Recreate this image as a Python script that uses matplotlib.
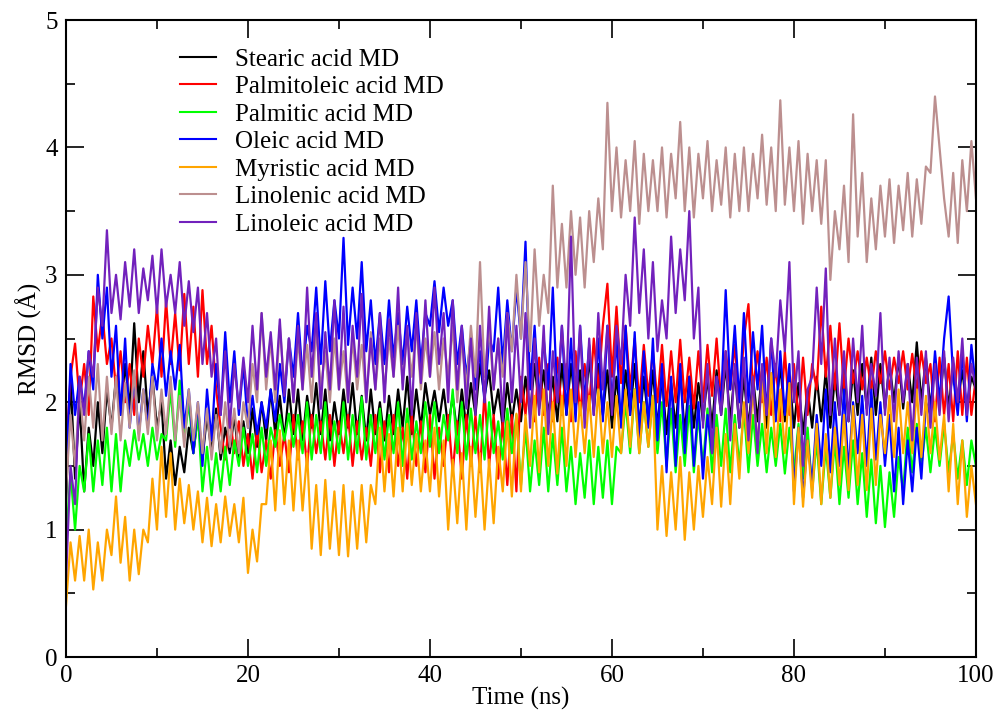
import numpy as np
import matplotlib
matplotlib.use('Agg')
from matplotlib import pyplot as plt

plt.rcParams['font.family'] = ['Liberation Serif', 'DejaVu Serif']

# time axis, one frame every 0.5 ns
time_ns = np.arange(0, 100.5, 0.5)

labels = ['Stearic acid MD', 'Palmitoleic acid MD', 'Palmitic acid MD', 'Oleic acid MD',
          'Myristic acid MD', 'Linolenic acid MD', 'Linoleic acid MD']
colors = ['#000000', '#ff0000', '#00ff00', '#0000ff', '#ffa500', '#bc8f8f', '#7221bc']

stearic = [
    1.2, 2.2, 1.4, 2.0, 1.3, 1.8, 1.5, 2.0, 1.6, 2.1,
    1.8, 2.2, 1.9, 2.3, 1.95, 2.62, 2.0, 2.4, 1.9, 2.2,
    1.8, 2.0, 1.4, 1.7, 1.35, 1.65, 1.45, 1.8, 1.6, 1.9,
    1.55, 1.9, 1.6, 1.95, 1.55, 1.8, 1.6, 1.9, 1.55, 1.85,
    1.6, 1.95, 1.65, 2.0, 1.7, 2.1, 1.75, 2.05, 1.7, 2.1,
    1.75, 2.1, 1.7, 2.05, 1.8, 2.15, 1.75, 2.1, 1.7, 2.0,
    1.75, 2.1, 1.8, 2.15, 1.75, 2.05, 1.7, 2.1, 1.75, 2.0,
    1.7, 2.05, 1.75, 2.1, 1.8, 2.2, 1.75, 2.1, 1.8, 2.15,
    1.9, 2.09, 1.85, 2.1, 1.8, 2.05, 1.75, 2.1, 1.8, 2.15,
    1.9, 2.3, 2.05, 2.25, 1.9, 2.1, 1.8, 2.15, 1.85, 2.1,
    1.85, 2.2, 1.9, 2.3, 1.95, 2.25, 1.9, 2.2, 1.85, 2.3,
    1.9, 2.3, 1.95, 2.25, 1.9, 2.35, 1.95, 2.3, 1.9, 2.25,
    1.8, 2.2, 1.85, 2.25, 1.9, 2.3, 1.8, 2.2, 1.85, 2.25,
    1.8, 2.2, 1.75, 2.15, 1.8, 2.25, 1.75, 2.2, 1.8, 2.15,
    1.85, 2.2, 1.8, 2.25, 1.9, 2.3, 1.85, 2.25, 1.8, 2.2,
    1.8, 2.2, 1.85, 2.25, 1.8, 2.2, 1.9, 2.3, 1.85, 2.2,
    1.8, 2.15, 1.75, 2.1, 1.8, 2.2, 1.85, 2.25, 1.8, 2.2,
    1.9, 2.3, 1.85, 2.25, 1.9, 2.3, 1.95, 2.35, 1.9, 2.3,
    1.95, 2.3, 2.0, 2.35, 1.95, 2.3, 2.0, 2.47, 2.0, 2.35,
    1.95, 2.3, 2.0, 2.35, 1.95, 2.3, 2.0, 2.25, 1.95, 2.2,
    2.1]

palmitoleic = [
    1.6, 2.2, 2.46, 2.0, 2.3, 1.9, 2.83, 2.4, 2.7, 2.3,
    2.5, 2.1, 2.4, 2.0, 2.3, 1.9, 2.5, 2.2, 2.6, 2.3,
    2.75, 2.2, 2.8, 2.3, 2.7, 2.25, 2.85, 2.3, 2.75, 2.2,
    2.88, 2.3, 2.6, 2.1, 1.8, 1.55, 1.9, 1.6, 1.85, 1.5,
    1.75, 1.4, 1.8, 1.45, 1.7, 1.4, 1.78, 1.5, 1.75, 1.45,
    1.9, 1.55, 1.85, 1.5, 1.9, 1.6, 1.85, 1.55, 1.9, 1.5,
    1.85, 1.6, 1.9, 1.5, 1.85, 1.55, 1.8, 1.5, 1.9, 1.45,
    1.85, 1.45, 1.9, 1.5, 1.8, 1.4, 1.9, 1.5, 1.85, 1.45,
    1.9, 1.4, 1.8, 1.5, 1.9, 1.45, 1.85, 1.4, 1.9, 1.5,
    1.9, 1.45, 2.09, 1.5, 1.9, 1.4, 1.85, 1.35, 1.9, 1.3,
    2.2, 1.9, 2.3, 1.85, 2.35, 1.9, 2.3, 1.85, 2.35, 1.9,
    2.3, 1.85, 2.4, 1.9, 2.3, 1.95, 2.5, 2.1, 2.6, 2.93,
    2.2, 2.75, 2.15, 2.6, 2.1, 2.5, 2.0, 2.45, 2.05, 2.4,
    2.0, 2.45, 1.97, 2.4, 2.0, 2.49, 2.0, 2.35, 1.95, 2.4,
    2.0, 2.45, 2.05, 2.5, 2.0, 2.4, 2.1, 2.45, 2.0, 2.5,
    2.77, 2.1, 2.4, 2.0, 2.35, 1.9, 2.3, 1.85, 2.4, 1.9,
    2.3, 1.85, 2.35, 1.9, 2.3, 2.1, 2.75, 2.2, 2.6, 2.1,
    2.62, 2.1, 2.5, 2.15, 2.4, 2.1, 2.35, 2.1, 2.4, 2.15,
    2.4, 2.1, 2.35, 2.15, 2.4, 2.1, 2.38, 2.1, 2.4, 2.15,
    2.3, 1.85, 2.35, 1.9, 2.3, 1.85, 2.4, 1.9, 2.35, 1.9,
    2.2]

palmitic = [
    0.9, 1.45, 1.0, 1.5, 1.3, 1.75, 1.3, 1.7, 1.35, 1.8,
    1.3, 1.75, 1.3, 1.7, 1.5, 1.78, 1.55, 1.75, 1.5, 1.8,
    1.55, 1.75, 1.7, 2.1, 1.65, 2.17, 1.7, 2.0, 1.6, 1.9,
    1.3, 1.65, 1.27, 1.6, 1.3, 1.65, 1.35, 1.7, 1.5, 1.8,
    1.5, 1.75, 1.45, 1.8, 1.5, 1.8, 1.65, 1.9, 1.7, 1.91,
    1.65, 1.9, 1.6, 2.0, 1.55, 1.9, 1.6, 2.0, 1.55, 1.85,
    1.6, 2.0, 1.55, 1.9, 1.6, 2.04, 1.55, 1.9, 1.6, 1.95,
    1.55, 1.9, 1.6, 2.0, 1.5, 1.95, 1.55, 1.85, 1.6, 2.0,
    1.65, 2.0, 1.6, 1.9, 1.7, 2.1, 1.6, 2.0, 1.55, 1.95,
    1.6, 1.9, 1.55, 2.0, 1.6, 1.85, 1.55, 1.95, 1.6, 1.9,
    1.35, 1.8, 1.3, 1.7, 1.35, 1.8, 1.3, 1.75, 1.35, 1.8,
    1.3, 1.65, 1.2, 1.6, 1.25, 1.7, 1.2, 1.65, 1.25, 1.7,
    1.2, 1.65, 1.6, 2.0, 1.6, 2.1, 1.6, 2.0, 1.65, 2.05,
    1.6, 2.0, 1.5, 1.95, 1.45, 1.9, 1.5, 1.97, 1.45, 1.9,
    1.5, 1.95, 1.45, 1.9, 1.5, 1.95, 1.45, 1.9, 1.5, 1.95,
    1.45, 1.9, 1.5, 1.83, 1.45, 1.8, 1.5, 1.83, 1.44, 1.8,
    1.45, 1.83, 1.4, 1.8, 1.3, 1.7, 1.2, 1.65, 1.25, 1.7,
    1.2, 1.65, 1.25, 1.7, 1.2, 1.6, 1.1, 1.55, 1.05, 1.5,
    1.02, 1.45, 1.1, 1.57, 1.3, 1.8, 1.45, 1.83, 1.5, 1.8,
    1.45, 1.8, 1.5, 1.83, 1.45, 1.75, 1.4, 1.7, 1.35, 1.7,
    1.5]

oleic = [
    1.4, 2.3, 1.9, 2.2, 1.95, 2.4, 2.1, 3.0, 2.5, 2.9,
    2.2, 2.6, 1.9, 2.5, 1.8, 2.2, 1.75, 2.1, 1.8, 2.3,
    2.1, 2.5, 2.05, 2.4, 2.1, 2.45, 1.8, 2.1, 1.6, 2.0,
    1.5, 2.1, 1.7, 2.3, 1.9, 2.55, 2.0, 2.4, 1.9, 2.3,
    1.8, 2.05, 1.75, 2.0, 1.8, 2.1, 1.85, 2.3, 2.0, 2.5,
    2.2, 2.7, 2.2, 2.6, 2.4, 2.9, 2.3, 2.95, 2.4, 2.8,
    2.5, 3.29, 2.45, 2.9, 2.5, 3.1, 2.4, 2.8, 2.3, 2.7,
    2.3, 2.8, 2.35, 2.7, 2.3, 2.75, 2.4, 2.8, 2.3, 2.7,
    2.6, 2.95, 2.55, 2.9, 2.6, 2.8, 2.3, 2.6, 2.2, 2.5,
    2.1, 2.4, 2.0, 2.5, 2.4, 2.9, 2.3, 2.8, 2.4, 2.9,
    2.5, 3.26, 2.1, 2.6, 2.0, 2.5, 2.1, 2.9, 2.0, 2.6,
    1.9, 2.5, 1.85, 2.6, 2.0, 2.45, 1.9, 2.5, 1.85, 2.6,
    2.0, 2.5, 1.8, 2.6, 1.9, 2.55, 1.7, 2.4, 1.8, 2.5,
    1.7, 2.3, 1.45, 2.2, 1.5, 2.3, 1.6, 2.2, 1.5, 2.0,
    1.4, 1.9, 1.6, 2.2, 2.0, 2.88, 2.1, 2.6, 2.0, 2.7,
    2.0, 2.55, 2.1, 2.6, 1.9, 2.5, 1.85, 2.4, 1.9, 2.3,
    1.3, 1.8, 1.25, 1.7, 1.35, 1.9, 1.5, 2.1, 1.45, 2.0,
    1.5, 2.1, 1.45, 2.0, 1.6, 2.05, 1.5, 2.1, 1.55, 2.0,
    1.5, 1.9, 1.3, 1.8, 1.2, 1.7, 1.3, 1.8, 1.4, 2.0,
    1.9, 2.4, 2.0, 2.5, 2.83, 2.2, 1.9, 2.4, 1.85, 2.45,
    2.1]

myristic = [
    0.4, 0.9, 0.6, 0.95, 0.6, 1.0, 0.53, 0.9, 0.6, 1.0,
    0.8, 1.26, 0.74, 1.1, 0.6, 1.0, 0.65, 1.0, 0.9, 1.4,
    1.0, 1.65, 1.1, 1.6, 1.0, 1.4, 1.05, 1.35, 1.0, 1.3,
    0.9, 1.25, 0.87, 1.2, 0.9, 1.26, 0.95, 1.2, 0.9, 1.25,
    0.66, 1.0, 0.75, 1.2, 1.2, 1.7, 1.15, 1.78, 1.2, 1.7,
    1.15, 1.7, 1.15, 1.6, 0.85, 1.35, 0.8, 1.39, 0.85, 1.3,
    0.8, 1.35, 0.79, 1.3, 0.85, 1.35, 0.9, 1.35, 1.2, 1.8,
    1.3, 1.75, 1.26, 1.8, 1.3, 1.83, 1.35, 1.75, 1.3, 1.7,
    1.3, 1.8, 1.26, 1.7, 1.0, 1.55, 1.05, 1.6, 1.0, 1.65,
    1.1, 1.6, 1.0, 1.55, 1.05, 1.65, 1.3, 1.85, 1.26, 1.91,
    1.3, 1.9, 1.5, 2.05, 1.45, 2.1, 1.5, 2.0, 1.44, 2.05,
    1.5, 2.1, 1.57, 2.0, 1.6, 2.05, 1.57, 2.1, 1.6, 2.0,
    1.57, 2.05, 1.6, 2.1, 1.65, 2.1, 1.6, 2.0, 1.65, 2.05,
    1.0, 1.5, 0.95, 1.45, 1.0, 1.57, 0.92, 1.45, 1.0, 1.5,
    1.1, 1.57, 1.2, 1.8, 1.18, 1.75, 1.2, 1.83, 1.4, 2.0,
    1.6, 2.1, 1.65, 2.2, 1.6, 2.23, 1.57, 2.1, 1.6, 2.15,
    1.2, 1.8, 1.18, 1.7, 1.25, 1.83, 1.2, 1.75, 1.25, 1.8,
    1.35, 1.9, 1.31, 1.97, 1.35, 1.9, 1.31, 1.95, 1.35, 1.9,
    1.6, 2.05, 1.57, 2.1, 1.6, 2.0, 1.6, 2.1, 1.57, 2.05,
    1.6, 2.0, 1.55, 1.9, 1.3, 1.83, 1.2, 1.7, 1.1, 1.5,
    1.2]

linolenic = [
    1.3, 1.9, 1.5, 2.1, 1.7, 2.2, 1.8, 2.3, 1.7, 2.2,
    1.75, 2.2, 1.7, 2.15, 1.8, 2.25, 1.7, 2.1, 1.75, 2.2,
    1.7, 2.1, 1.75, 2.2, 1.7, 2.05, 1.65, 2.1, 1.7, 2.0,
    1.6, 1.95, 1.55, 1.9, 1.6, 2.0, 1.65, 1.95, 1.6, 2.0,
    1.8, 2.3, 2.0, 2.7, 2.1, 2.5, 2.0, 2.6, 2.1, 2.5,
    2.0, 2.5, 2.1, 2.45, 2.0, 2.6, 2.1, 2.4, 2.0, 2.5,
    2.1, 2.4, 2.0, 2.5, 2.1, 2.45, 2.0, 2.55, 2.1, 2.5,
    2.1, 2.5, 2.2, 2.6, 2.15, 2.55, 2.2, 2.6, 2.1, 2.5,
    2.2, 2.55, 2.1, 2.5, 2.2, 2.6, 2.0, 2.5, 2.1, 2.6,
    2.2, 3.1, 2.2, 2.6, 2.1, 2.5, 2.2, 2.7, 2.4, 3.0,
    2.5, 3.1, 2.4, 3.2, 2.6, 3.0, 2.7, 3.7, 2.9, 3.4,
    2.9, 3.5, 3.0, 3.45, 2.9, 3.5, 3.1, 3.6, 3.2, 4.35,
    3.5, 4.0, 3.45, 3.9, 3.5, 4.05, 3.4, 3.95, 3.5, 3.9,
    3.5, 4.0, 3.45, 3.95, 3.6, 4.2, 3.5, 4.0, 3.45, 3.95,
    3.6, 4.05, 3.5, 3.9, 3.55, 4.0, 3.45, 3.95, 3.5, 4.0,
    3.5, 3.95, 3.6, 4.1, 3.55, 4.0, 3.5, 4.37, 3.55, 4.0,
    3.5, 4.05, 3.4, 3.95, 3.5, 3.9, 3.4, 3.9, 2.96, 3.5,
    3.2, 3.7, 3.1, 4.26, 3.3, 3.8, 3.1, 3.6, 3.2, 3.7,
    3.3, 3.75, 3.25, 3.7, 3.35, 3.8, 3.3, 3.75, 3.4, 3.85,
    3.8, 4.4, 4.0, 3.6, 3.3, 3.8, 3.25, 3.9, 3.5, 4.05,
    3.6]

linoleic = [
    0.6, 1.5, 1.2, 2.2, 1.9, 2.4, 2.2, 2.9, 2.6, 3.35,
    2.7, 3.0, 2.65, 3.1, 2.75, 3.2, 2.7, 3.05, 2.8, 3.15,
    2.7, 3.2, 2.75, 3.0, 2.7, 3.1, 2.6, 2.95, 2.55, 2.9,
    2.3, 2.7, 2.2, 2.5, 1.9, 2.4, 1.8, 2.3, 1.95, 2.35,
    2.0, 2.6, 2.1, 2.7, 2.2, 2.55, 2.1, 2.65, 2.05, 2.5,
    2.0, 2.6, 2.1, 2.9, 2.2, 2.7, 1.95, 2.55, 2.1, 2.8,
    2.1, 2.75, 2.0, 2.6, 2.2, 2.85, 2.0, 2.5, 2.1, 2.7,
    2.0, 2.65, 2.2, 2.9, 2.1, 2.6, 1.9, 2.7, 2.15, 2.8,
    2.2, 2.9, 2.3, 2.7, 2.0, 2.8, 2.1, 2.6, 1.95, 2.5,
    1.9, 2.6, 2.0, 2.75, 2.1, 2.5, 1.85, 2.7, 2.0, 2.6,
    2.0, 2.7, 1.8, 2.5, 1.9, 2.6, 1.75, 2.4, 2.0, 2.6,
    2.1, 3.3, 2.0, 2.6, 1.8, 2.5, 1.9, 2.7, 2.1, 2.6,
    1.9, 2.6, 2.3, 3.0, 2.6, 3.45, 2.7, 3.2, 2.5, 3.1,
    2.4, 2.8, 2.5, 3.3, 2.7, 3.2, 2.8, 3.5, 2.5, 2.9,
    1.8, 2.3, 1.6, 2.2, 1.9, 2.4, 1.7, 2.3, 1.8, 2.35,
    1.7, 2.2, 1.6, 2.3, 1.9, 2.5, 2.2, 2.8, 2.4, 3.1,
    2.0, 2.4, 1.5, 2.1, 2.2, 2.9, 2.3, 3.05, 1.9, 2.5,
    1.9, 2.4, 1.85, 2.5, 2.0, 2.6, 1.9, 2.3, 2.05, 2.7,
    1.9, 2.35, 1.85, 2.4, 2.0, 2.3, 1.7, 2.35, 1.9, 2.4,
    1.8, 2.3, 1.9, 2.4, 1.85, 2.35, 2.0, 2.5, 1.9, 2.3,
    2.1]

series = [stearic, palmitoleic, palmitic, oleic, myristic, linolenic, linoleic]

fig = plt.figure(figsize=(9.98, 7.15), dpi=100)
ax = fig.add_axes([0.0661, 0.0811, 0.9118, 0.8909])

for vals, lab, col in zip(series, labels, colors):
    ax.plot(time_ns, vals, color=col, lw=1.6, label=lab)

ax.set_xlim(0, 100)
ax.set_ylim(0, 5)
ax.set_xticks([0, 20, 40, 60, 80, 100])
ax.set_xticks([10, 30, 50, 70, 90], minor=True)
ax.set_yticks([0, 1, 2, 3, 4, 5])
ax.set_yticks([0.5, 1.5, 2.5, 3.5, 4.5], minor=True)
ax.tick_params(which='both', direction='in', top=True, right=True, labelsize=18, pad=6)
ax.tick_params(which='major', length=13, width=1.2)
ax.tick_params(which='minor', length=6.5, width=1.2)
for sp in ax.spines.values():
    sp.set_linewidth(1.5)

ax.set_xlabel('Time (ns)', fontsize=18, labelpad=0)
ax.set_ylabel('RMSD (Å)', fontsize=18, labelpad=2)

leg = ax.legend(loc='upper left', bbox_to_anchor=(0.125, 0.956), frameon=False, fontsize=18,
                handlelength=1.45, handletextpad=0.75, labelspacing=0.2, borderpad=0,
                borderaxespad=0)
for h in leg.get_lines():
    h.set_linewidth(1.5)

fig.savefig('out.png', dpi=100)
